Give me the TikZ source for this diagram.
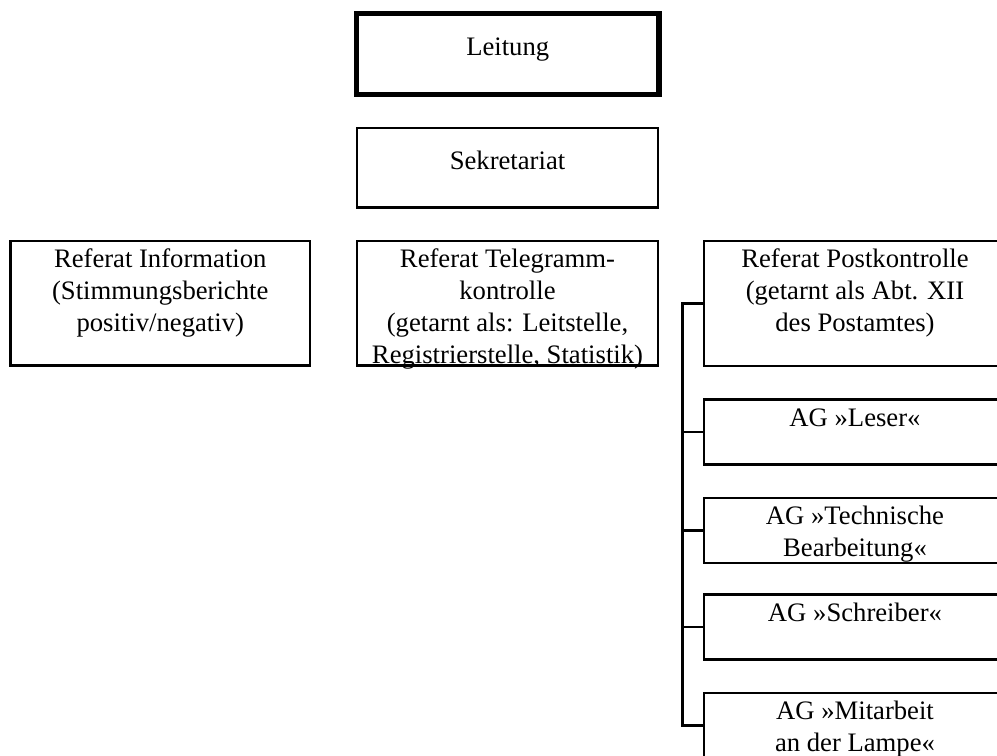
\documentclass[tikz,border=0pt]{standalone}
\usepackage{fontspec}
\setmainfont{Liberation Serif}
\usetikzlibrary{fit}
\begin{document}
\begin{tikzpicture}[x=0.75pt,y=-0.75pt,
  box/.style={draw=black,line width=1.9pt,inner sep=0pt,outer sep=0pt},
  thickbox/.style={box,line width=4pt},
  conn/.style={draw=black,line width=1.9pt},
  txt/.style={anchor=north,inner sep=0pt,align=center,font=\fontsize{20}{24}\selectfont}]
\useasboundingbox (0,0) rectangle (997,756);
\fill[white] (0,0) rectangle (997,756);
\clip (0,0) rectangle (997,756);
% boxes
\node[thickbox,fit={(356.5,13.5) (659,94.5)}] (leitung) {};
\node[box,fit={(357,128) (658,207.5)}] (sekr) {};
\node[box,fit={(10.5,241) (310,365.5)}] (info) {};
\node[box,fit={(357,241) (658,365.5)}] (tele) {};
\node[box,fit={(704,241) (1006,366)}] (post) {};
\node[box,fit={(704,399.5) (1006,464.5)}] (leser) {};
\node[box,fit={(704,498) (1006,563)}] (tech) {};
\node[box,fit={(704,594.5) (1006,659.5)}] (schr) {};
\node[box,fit={(704,693) (1006,758)}] (mit) {};
% texts
\node[txt] (tleitung) at ([yshift=-14.4pt]leitung.north) {\strut Leitung};
\node[txt] (tsekr) at ([yshift=-14.4pt]sekr.north) {\strut Sekretariat};
\node[txt] (tinfo) at ([yshift=-2.6pt]info.north) {\strut Referat Information\\(Stimmungsberichte\\positiv/negativ)};
\node[txt] (ttele) at ([yshift=-2.6pt]tele.north) {\strut Referat Telegramm-\\kontrolle\\(getarnt als: Leitstelle,\\Registrierstelle, Statistik)};
\node[txt] (tpost) at ([yshift=-2.6pt]post.north) {\strut Referat Postkontrolle\\(getarnt als Abt. XII\\des Postamtes)};
\node[txt] (tleser) at ([yshift=-3.1pt]leser.north) {\strut AG »Leser«};
\node[txt] (ttech) at ([yshift=-3.1pt]tech.north) {\strut AG »Technische\\Bearbeitung«};
\node[txt] (tschr) at ([yshift=-3.1pt]schr.north) {\strut AG »Schreiber«};
\node[txt] (tmit) at ([yshift=-3.1pt]mit.north) {\strut AG »Mitarbeit\\an der Lampe«};
% connectors
\coordinate (spine) at (682.5,0);
\draw[conn] (post.west) -| (spine |- mit.west) -- (mit.west);
\draw[conn] (spine |- leser.west) -- (leser.west);
\draw[conn] (spine |- tech.west) -- (tech.west);
\draw[conn] (spine |- schr.west) -- (schr.west);
\end{tikzpicture}
\end{document}
